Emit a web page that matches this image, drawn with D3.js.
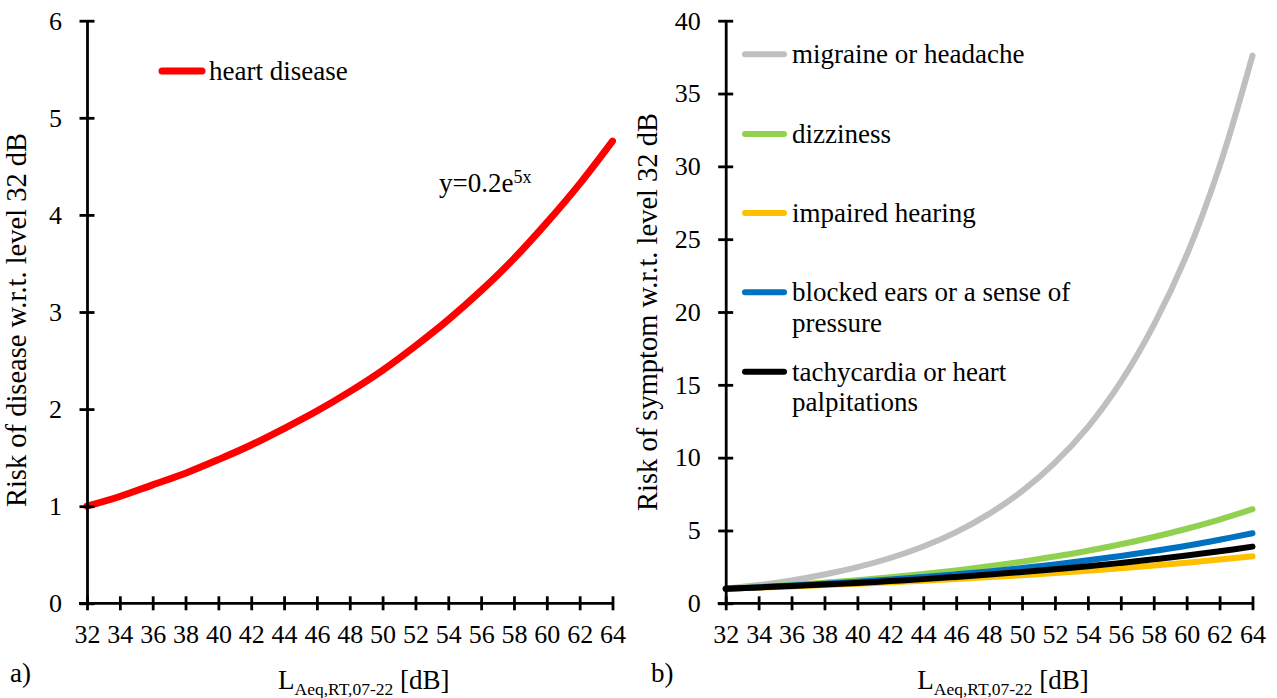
<!DOCTYPE html>
<html>
<head>
<meta charset="utf-8">
<script src="https://cdn.jsdelivr.net/npm/d3@7"></script>
<style>
  body { margin: 0; background: #fff; }
  svg text { font-family: "Liberation Serif", "Times New Roman", Tinos, "DejaVu Serif", serif; fill: #000; }
</style>
</head>
<body>
<div id="chart"></div>
<script>
// noise level L_Aeq,RT,07-22 [dB]
const levels = [32, 34, 36, 38, 40, 42, 44, 46, 48, 50, 52, 54, 56, 58, 60, 62, 64];

// panel a) risk of disease
const heartDisease = [1.00, 1.10, 1.22, 1.34, 1.48, 1.63, 1.80, 1.98, 2.18, 2.40, 2.65, 2.92, 3.22, 3.55, 3.92, 4.32, 4.76];

// panel b) risk of symptom
const migraine = [1.00, 1.25, 1.57, 1.98, 2.48, 3.11, 3.90, 4.89, 6.14, 7.70, 9.66, 12.1, 15.2, 19.1, 23.9, 30.0, 37.6];
const dizziness = [1.00, 1.12, 1.26, 1.42, 1.59, 1.79, 2.01, 2.26, 2.54, 2.86, 3.21, 3.61, 4.05, 4.55, 5.12, 5.75, 6.46];
const impairedHearing = [1.00, 1.08, 1.16, 1.25, 1.34, 1.44, 1.55, 1.67, 1.80, 1.93, 2.08, 2.24, 2.41, 2.59, 2.79, 3.00, 3.23];
const blockedEars = [1.00, 1.10, 1.22, 1.34, 1.48, 1.63, 1.80, 1.99, 2.19, 2.42, 2.67, 2.95, 3.25, 3.59, 3.95, 4.36, 4.81];
const tachycardia = [1.00, 1.09, 1.19, 1.29, 1.40, 1.53, 1.66, 1.81, 1.97, 2.15, 2.34, 2.54, 2.77, 3.02, 3.28, 3.57, 3.89];

const yTicksA = [0, 1, 2, 3, 4, 5, 6];
const yTicksB = [0, 5, 10, 15, 20, 25, 30, 35, 40];

const seriesA = [
  { name: 'heart disease', values: heartDisease, color: '#ff0000' }
];
const seriesB = [
  { name: ['migraine or headache'], values: migraine, color: '#bfbfbf' },
  { name: ['dizziness'], values: dizziness, color: '#92d050' },
  { name: ['impaired hearing'], values: impairedHearing, color: '#ffc000' },
  { name: ['blocked ears or a sense of', 'pressure'], values: blockedEars, color: '#0070c0' },
  { name: ['tachycardia or heart', 'palpitations'], values: tachycardia, color: '#000000' }
];

const width = 1277, height = 698;
const tickSize = 26, textSize = 27, titleSize = 28.5;
const serif = '"Liberation Serif", "Times New Roman", Tinos, "DejaVu Serif", serif';

const svg = d3.select('#chart').append('svg')
  .attr('width', width)
  .attr('height', height)
  .attr('font-family', serif)
  .style('background', '#fff');

function drawPanel(opts) {
  const x = d3.scaleLinear().domain([32, 64]).range([opts.x0, opts.x1]);
  const y = d3.scaleLinear().domain([0, opts.yMax]).range([603.3, 20.7]);

  const g = svg.append('g');

  // lines first, axes on top as in the original
  const line = d3.line()
    .x((d, i) => x(levels[i]))
    .y(d => y(d))
    .curve(d3.curveCatmullRom);

  opts.series.forEach(s => {
    g.append('path')
      .datum(s.values)
      .attr('d', line)
      .attr('fill', 'none')
      .attr('stroke', s.color)
      .attr('stroke-width', opts.lineWidth)
      .attr('stroke-linecap', 'round')
      .attr('stroke-linejoin', 'round');
  });

  // x axis, ticks crossing the line
  const xAxis = g.append('g')
    .attr('transform', `translate(0, ${y(0)})`)
    .call(d3.axisBottom(x).tickValues(levels).tickSizeOuter(0).tickFormat(d3.format('d')))
    .attr('font-family', serif)
    .attr('font-size', tickSize);
  xAxis.select('.domain').attr('stroke-width', 2.8).attr('d', `M${opts.x0 - 8},0H${opts.x1}`);
  xAxis.selectAll('.tick line').attr('y1', -7).attr('y2', 7).attr('stroke-width', 2.8);
  xAxis.selectAll('.tick text').attr('y', 40).attr('dy', null);

  // y axis
  const yAxis = g.append('g')
    .attr('transform', `translate(${opts.x0}, 0)`)
    .call(d3.axisLeft(y).tickValues(opts.yTicks).tickSizeOuter(0).tickFormat(d3.format('d')))
    .attr('font-family', serif)
    .attr('font-size', tickSize);
  yAxis.select('.domain').attr('stroke-width', 2.8);
  yAxis.selectAll('.tick line').attr('x1', -7.5).attr('x2', 7.5).attr('stroke-width', 2.8);
  yAxis.selectAll('.tick text').attr('x', -25);

  // y title
  g.append('text')
    .attr('transform', `translate(${opts.yTitleX}, ${opts.yTitleY}) rotate(-90)`)
    .attr('text-anchor', 'middle')
    .attr('font-size', titleSize)
    .text(opts.yTitle);

  // x title with subscript
  const xt = g.append('text')
    .attr('x', (opts.x0 + opts.x1) / 2 + 14)
    .attr('y', 689)
    .attr('text-anchor', 'middle')
    .attr('font-size', textSize);
  xt.append('tspan').text('L');
  xt.append('tspan').attr('dy', 6).attr('font-size', 17.5).text('Aeq,RT,07-22');
  xt.append('tspan').attr('dy', -6).text(' [dB]');

  // panel letter
  g.append('text')
    .attr('x', opts.letterX)
    .attr('y', 682)
    .attr('font-size', textSize)
    .text(opts.letter);

  return g;
}

const gA = drawPanel({
  x0: 87, x1: 612.5, yMax: 6, yTicks: yTicksA, series: seriesA, lineWidth: 7,
  yTitle: 'Risk of disease w.r.t. level 32 dB', yTitleX: 26, yTitleY: 320,
  letter: 'a)', letterX: 10
});

const gB = drawPanel({
  x0: 725.7, x1: 1252.5, yMax: 40, yTicks: yTicksB, series: seriesB, lineWidth: 6,
  yTitle: 'Risk of symptom w.r.t. level 32 dB', yTitleX: 657, yTitleY: 312,
  letter: 'b)', letterX: 651
});

// legend a)
seriesA.forEach(s => {
  gA.append('line')
    .attr('x1', 162).attr('x2', 202).attr('y1', 71).attr('y2', 71)
    .attr('stroke', s.color).attr('stroke-width', 7).attr('stroke-linecap', 'round');
  gA.append('text')
    .attr('x', 209).attr('y', 80)
    .attr('font-size', textSize)
    .text(s.name);
});

// equation label
const eq = gA.append('text')
  .attr('x', 439).attr('y', 192)
  .attr('font-size', textSize);
eq.append('tspan').text('y=0.2e');
eq.append('tspan').attr('dy', -9).attr('font-size', 18).text('5x');

// legend b)
const legendRows = [54.3, 134, 213, 292.3, 371.7];
seriesB.forEach((s, i) => {
  const ly = legendRows[i];
  gB.append('line')
    .attr('x1', 745).attr('x2', 784).attr('y1', ly).attr('y2', ly)
    .attr('stroke', s.color).attr('stroke-width', 6).attr('stroke-linecap', 'round');
  const t = gB.append('text')
    .attr('x', 792).attr('y', ly + 9)
    .attr('font-size', textSize);
  s.name.forEach((part, j) => {
    t.append('tspan').attr('x', 792).attr('dy', j === 0 ? 0 : 30.5).text(part);
  });
});
</script>
</body>
</html>
